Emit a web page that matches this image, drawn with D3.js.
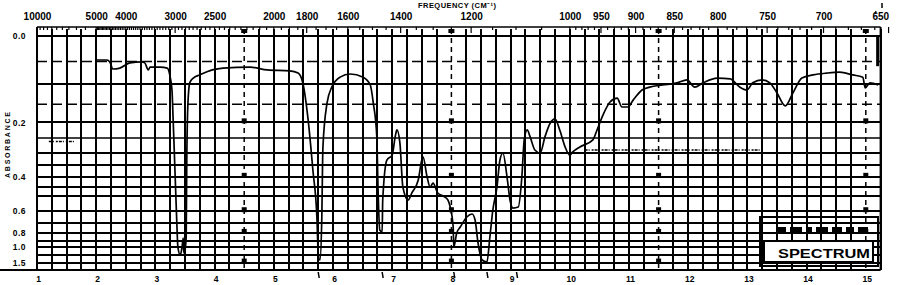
<!DOCTYPE html>
<html>
<head>
<meta charset="utf-8">
<script src="https://cdn.jsdelivr.net/npm/d3@7"></script>
<style>
  body { margin: 0; background: #fff; }
  svg { display: block; }
  text { font-family: "Liberation Sans", Arial, sans-serif; font-weight: bold; fill: #000; }
</style>
</head>
<body>
<div id="chart"></div>
<script>
// spectrum: wavelength (microns) and absorbance
var wavelength = [2.01, 2.18, 2.23, 2.28, 2.40, 2.57, 2.77, 2.82, 2.88, 2.91, 3.08, 3.20, 3.25, 3.28, 3.30, 3.33, 3.36, 3.38, 3.42, 3.45,
  3.47, 3.48, 3.50, 3.52, 3.53, 3.55, 3.58, 3.64, 3.75, 3.96, 4.14, 4.60, 4.89, 5.27, 5.41, 5.49, 5.58, 5.66, 5.73, 5.75,
  5.78, 5.81, 5.83, 5.90, 5.98, 6.12, 6.29, 6.51, 6.63, 6.68, 6.74, 6.76, 6.79, 6.83, 6.84, 6.91, 7.00, 7.05, 7.08, 7.13,
  7.18, 7.27, 7.33, 7.44, 7.50, 7.52, 7.59, 7.64, 7.69, 7.77, 7.89, 7.94, 7.98, 8.03, 8.04, 8.09, 8.15, 8.26, 8.35, 8.40,
  8.45, 8.52, 8.60, 8.65, 8.70, 8.77, 8.82, 8.87, 8.94, 8.99, 9.04, 9.13, 9.19, 9.23, 9.28, 9.33, 9.41, 9.50, 9.58, 9.67,
  9.75, 9.83, 9.92, 10.00, 10.05, 10.17, 10.39, 10.46, 10.56, 10.68, 10.80, 10.88, 10.98, 11.07, 11.22, 11.35, 11.57, 11.81, 11.98, 12.11,
  12.25, 12.49, 12.71, 12.87, 12.99, 13.09, 13.25, 13.38, 13.50, 13.64, 13.77, 13.92, 14.11, 14.34, 14.56, 14.78, 14.95, 14.99, 15.07, 15.21];
var absorbance = [0.047, 0.047, 0.051, 0.066, 0.064, 0.053, 0.051, 0.053, 0.068, 0.062, 0.062, 0.064, 0.084, 0.114, 0.193, 0.369, 0.670, 1.008, 1.193, 1.008,
  0.864, 1.139, 1.068, 0.851, 0.328, 0.146, 0.097, 0.086, 0.079, 0.068, 0.064, 0.062, 0.068, 0.070, 0.075, 0.097, 0.193, 0.369, 0.670, 1.139,
  1.369, 0.670, 0.279, 0.146, 0.107, 0.084, 0.077, 0.084, 0.102, 0.146, 0.245, 0.450, 0.767, 0.789, 0.524, 0.328, 0.309, 0.245, 0.223, 0.265,
  0.450, 0.524, 0.483, 0.415, 0.328, 0.316, 0.401, 0.450, 0.430, 0.483, 0.506, 0.524, 0.570, 0.736, 1.008, 0.801, 0.736, 0.645, 0.621, 0.670,
  0.938, 1.369, 1.466, 0.851, 0.591, 0.450, 0.328, 0.301, 0.401, 0.524, 0.577, 0.570, 0.401, 0.255, 0.223, 0.245, 0.290, 0.301, 0.245, 0.202,
  0.190, 0.223, 0.279, 0.309, 0.297, 0.279, 0.255, 0.223, 0.179, 0.144, 0.134, 0.157, 0.157, 0.139, 0.114, 0.107, 0.102, 0.097, 0.090, 0.107,
  0.097, 0.086, 0.088, 0.107, 0.114, 0.097, 0.090, 0.097, 0.121, 0.154, 0.121, 0.086, 0.079, 0.075, 0.073, 0.079, 0.084, 0.109, 0.097, 0.102];

var micronTicks = [1, 2, 3, 4, 5, 6, 7, 8, 9, 10, 11, 12, 13, 14, 15];
var freqTicks = [10000, 5000, 4000, 3000, 2500, 2000, 1800, 1600, 1400, 1200, 1000, 950, 900, 850, 800, 750, 700, 650];
var absTicks = [0, 0.2, 0.4, 0.6, 0.8, 1.0, 1.5];
var absGrid = [0, 0.1, 0.2, 0.25, 0.3, 0.35, 0.4, 0.45, 0.5, 0.6, 0.7, 0.8, 0.9, 1.0, 1.2, 1.5];
var absGridDashed = [0.05, 0.15];
var calibLines = [4.5, 8, 11.5, 15];          // dotted marker lines on the chart paper
var calibMarks = [0.2, 0.4, 0.6, 0.8, 1.5];
var peakMarks = [5.75, 6.83, 8.04, 8.6, 9.1];  // pen ticks under the axis
var noiseRuns = [[1.2, 1.65, 0.26], [10.25, 13.25, 0.29]]; // start, end, absorbance

var width = 898, height = 285;
var svg = d3.select('#chart').append('svg').attr('width', width).attr('height', height);

// x linear in microns, y linear in transmittance (absorbance labels)
var x = d3.scaleLinear().domain([1, 15.25]).range([37, 880.6]);
var yT = d3.scaleLinear().domain([1, 0]).range([36, 270]);
function yA(a) { return yT(Math.pow(10, -a)); }
var yTop = 27, yBot = 270;

// vertical grid every 0.25 micron
var vGrid = d3.range(1, 15.26, 0.25).filter(function (d) { return calibLines.indexOf(d) < 0; });
svg.append('g').selectAll('line').data(vGrid).enter().append('line')
  .attr('x1', function (d) { return Math.round(x(d)); }).attr('x2', function (d) { return Math.round(x(d)); })
  .attr('y1', 29).attr('y2', yBot)
  .attr('stroke', '#000').attr('stroke-width', 2);

// horizontal grid
svg.append('g').selectAll('line').data(absGrid).enter().append('line')
  .attr('x1', x(1)).attr('x2', x(15.25))
  .attr('y1', function (d) { return Math.round(yA(d)); }).attr('y2', function (d) { return Math.round(yA(d)); })
  .attr('stroke', '#000').attr('stroke-width', function (d) { return d === 0.25 ? 1.5 : 2; });
svg.append('g').selectAll('line').data(absGridDashed).enter().append('line')
  .attr('x1', x(1)).attr('x2', x(15.25))
  .attr('y1', function (d) { return yA(d); }).attr('y2', function (d) { return yA(d); })
  .attr('stroke', '#000').attr('stroke-width', 1.5).attr('stroke-dasharray', '10,5');

// calibration marker lines
var cal = svg.append('g');
cal.selectAll('line').data(calibLines).enter().append('line')
  .attr('x1', function (d) { return x(d); }).attr('x2', function (d) { return x(d); })
  .attr('y1', 29).attr('y2', yBot)
  .attr('stroke', '#000').attr('stroke-width', 1.5).attr('stroke-dasharray', '5,4');
calibLines.forEach(function (l) {
  cal.selectAll(null).data(calibMarks).enter().append('rect')
    .attr('x', x(l) - 2.5).attr('y', function (d) { return yA(d) - 4; })
    .attr('width', 5).attr('height', 5).attr('fill', '#000');
  cal.append('rect').attr('x', x(l) - 3).attr('y', 29).attr('width', 6).attr('height', 4).attr('fill', '#000');
});

// frame
svg.append('line').attr('x1', x(1)).attr('x2', x(15.25)).attr('y1', yTop).attr('y2', yTop).attr('stroke', '#000').attr('stroke-width', 1.5);
svg.append('line').attr('x1', 0).attr('x2', x(15.25)).attr('y1', yBot).attr('y2', yBot).attr('stroke', '#000').attr('stroke-width', 2);
svg.append('line').attr('x1', x(1)).attr('x2', x(1)).attr('y1', yTop).attr('y2', yBot).attr('stroke', '#000').attr('stroke-width', 2);
svg.append('line').attr('x1', x(15.25)).attr('x2', x(15.25)).attr('y1', yTop).attr('y2', yBot).attr('stroke', '#000').attr('stroke-width', 2);

// frequency ticks in the top strip
var freqMinor = d3.range(10000, 5000, -500)
  .concat(d3.range(5000, 1000, -50))
  .concat(d3.range(1000, 640, -10));
svg.append('g').selectAll('line').data(freqMinor).enter().append('line')
  .attr('x1', function (f) { return x(1e4 / f); }).attr('x2', function (f) { return x(1e4 / f); })
  .attr('y1', yTop).attr('y2', function (f) { return freqTicks.indexOf(f) >= 0 ? yTop + 6 : yTop + 3; })
  .attr('stroke', '#000').attr('stroke-width', 1.2);

// top axis: frequency labels
var topAxis = svg.append('g').attr('transform', 'translate(0,' + (yTop - 6) + ')')
  .call(d3.axisTop(x).tickValues(freqTicks.map(function (f) { return 1e4 / f; }))
    .tickSize(0).tickPadding(1)
    .tickFormat(function (d) { return Math.round(1e4 / d); }));
topAxis.select('.domain').remove();
topAxis.selectAll('text').style('font-size', '10px').attr('fill', '#000')
  .style('font-family', '"Liberation Sans", Arial, sans-serif')
  .attr('text-anchor', function (d) { return Math.round(1e4 / d) === 650 ? 'end' : 'middle'; })
  .attr('x', function (d) { return Math.round(1e4 / d) === 650 ? 0 : 0; });

svg.append('text').attr('x', 418).attr('y', 8).attr('font-size', '7.5px')
  .attr('textLength', 78).attr('lengthAdjust', 'spacing')
  .text('FREQUENCY (CM\u207B\u00B9)');

// bottom axis: wavelength
var botAxis = svg.append('g').attr('transform', 'translate(1,' + (yBot + 4) + ')')
  .call(d3.axisBottom(x).tickValues(micronTicks).tickSize(0).tickPadding(2).tickFormat(d3.format('d')));
botAxis.select('.domain').remove();
botAxis.selectAll('text').style('font-size', '8.5px').attr('fill', '#000')
  .style('font-family', '"Liberation Sans", Arial, sans-serif');

// pen ticks under peaks
svg.append('g').selectAll('line').data(peakMarks).enter().append('line')
  .attr('x1', function (d) { return x(d); }).attr('x2', function (d) { return x(d) + 1; })
  .attr('y1', yBot + 2).attr('y2', yBot + 8)
  .attr('stroke', '#000').attr('stroke-width', 1.5);

// left axis: absorbance labels at transmittance positions
var leftAxis = svg.append('g').attr('transform', 'translate(27,0)')
  .call(d3.axisLeft(yT).tickValues(absTicks.map(function (a) { return Math.pow(10, -a); }))
    .tickSize(0).tickPadding(1)
    .tickFormat(function (t) { return (-Math.log10(t)).toFixed(1); }));
leftAxis.select('.domain').remove();
leftAxis.selectAll('text').style('font-size', '8.5px').attr('fill', '#000')
  .style('font-family', '"Liberation Sans", Arial, sans-serif').attr('letter-spacing', '0.5');

svg.append('text').attr('transform', 'translate(10,145) rotate(-90)')
  .attr('text-anchor', 'middle').attr('font-size', '7px')
  .attr('textLength', 66).attr('lengthAdjust', 'spacing')
  .text('ABSORBANCE');

// noisy baseline traces left on the paper
svg.append('g').selectAll('line').data(noiseRuns).enter().append('line')
  .attr('x1', function (d) { return x(d[0]); }).attr('x2', function (d) { return x(d[1]); })
  .attr('y1', function (d) { return yA(d[2]); }).attr('y2', function (d) { return yA(d[2]); })
  .attr('stroke', '#000').attr('stroke-width', 1.5).attr('stroke-dasharray', '3,1,1,2,2,1');

// the spectrum
var pts = wavelength.map(function (w, i) { return [w, absorbance[i]]; });
var line = d3.line().x(function (d) { return x(d[0]); }).y(function (d) { return yA(d[1]); }).curve(d3.curveMonotoneX);
svg.append('path').attr('d', line(pts)).attr('fill', 'none')
  .attr('stroke', '#000').attr('stroke-width', 1.7).attr('stroke-linejoin', 'round');

// pen rest mark at the right end
svg.append('line').attr('x1', x(15.2)).attr('x2', x(15.2)).attr('y1', yA(0)).attr('y2', yA(0.06))
  .attr('stroke', '#000').attr('stroke-width', 3);

// stamp box bottom right
var stamp = svg.append('g');
stamp.append('rect').attr('x', 760).attr('y', 217).attr('width', 118).attr('height', 49)
  .attr('fill', 'none').attr('stroke', '#000').attr('stroke-width', 2);
stamp.append('rect').attr('x', 764).attr('y', 241).attr('width', 109).attr('height', 21)
  .attr('fill', '#fff').attr('stroke', '#000').attr('stroke-width', 2);
[[776, 10], [790, 12], [806, 6], [816, 12], [832, 10], [846, 8], [858, 10]].forEach(function (b) {
  stamp.append('rect').attr('x', b[0]).attr('y', 227).attr('width', b[1]).attr('height', 7).attr('fill', '#000');
});
stamp.append('text').attr('x', 778).attr('y', 258).attr('font-size', '13px')
  .attr('textLength', 92).attr('lengthAdjust', 'spacingAndGlyphs')
  .text('SPECTRUM');

// small marks top right
svg.append('line').attr('x1', 876).attr('x2', 875).attr('y1', 11).attr('y2', 14).attr('stroke', '#000').attr('stroke-width', 1.2);
svg.append('line').attr('x1', 882).attr('x2', 882).attr('y1', 3).attr('y2', 8).attr('stroke', '#000').attr('stroke-width', 1.5);
</script>
</body>
</html>
